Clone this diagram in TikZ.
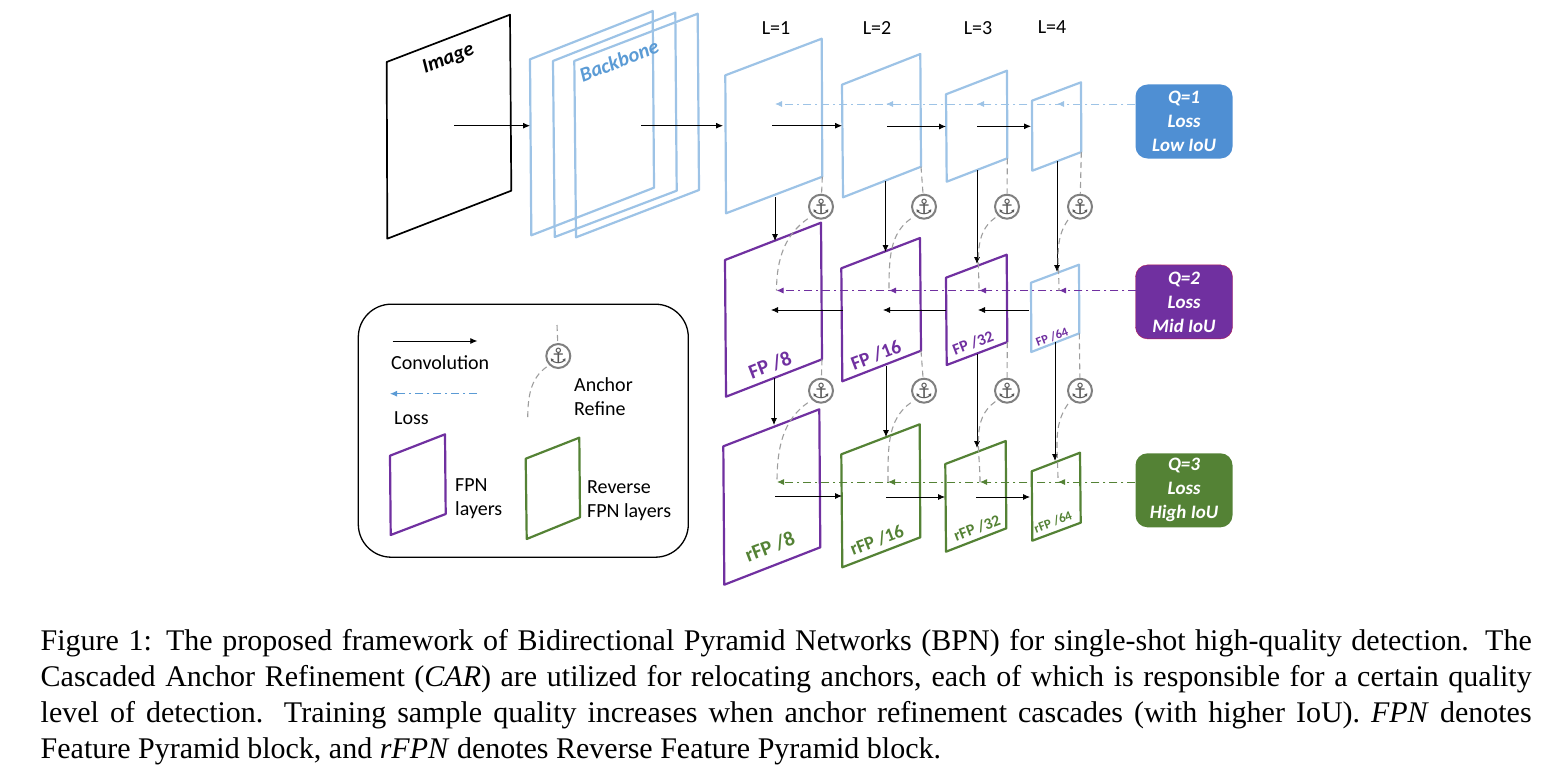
\documentclass[tikz,border=0pt]{standalone}
\usepackage{fontspec}
\setmainfont{Liberation Serif}
\newfontfamily\labelfont{Carlito}
\newfontfamily\symbolfont{DejaVu Sans}
\usetikzlibrary{arrows.meta,positioning}
\definecolor{paleblue}{HTML}{9DC3E6}
\definecolor{midblue}{HTML}{5B9BD5}
\definecolor{boxblue}{HTML}{4F8FD3}
\definecolor{fpnpurple}{HTML}{7030A0}
\definecolor{rfpngreen}{HTML}{548235}
\newcommand{\anchorsym}{\makebox[0pt]{\raisebox{-.36em}[0pt][0pt]{⚓}}}
\tikzset{every picture/.style={
  >={Latex[length=7pt,width=6pt]}   % Small solid arrow heads.
  }
}

\begin{document}
\begin{tikzpicture}[x=1pt,y=-1pt,
    sheet/.style={              % Feature maps, seen at an angle.
      line width=2.2pt,
      line join=round
    },
    conv/.style={               % Convolution arrows.
      ->,
      line width=.8pt
    },
    loss/.style={               % Loss lines, running out of a Q box.
      ->,
      line width=.9pt,
      dash pattern=on 8pt off 4pt on 2pt off 4pt
    },
    refine/.style={             % Anchor refinement paths.
      line width=1.1pt,
      black!38,
      dash pattern=on 6pt off 4pt
    },
    anchormark/.style={         % Ringed anchor symbols.
      circle,
      draw=black!50,
      line width=2pt,
      minimum size=24pt,
      inner sep=0pt,
      text=black!65,
      font=\symbolfont\fontsize{21}{21}\selectfont
    },
    lbl/.style={                % Plain black labels.
      inner sep=0pt,
      align=left,
      font=\labelfont\fontsize{20}{24}\selectfont
    },
    tilted/.style={             % Text lying on a sheet.
      inner sep=0pt,
      rotate=21,
      font=\labelfont\bfseries\fontsize{#1}{#1}\selectfont
    },
    qbox/.style={               % Boxes naming a quality level.
      rectangle,
      rounded corners=12pt,
      minimum width=97pt,
      minimum height=74pt,
      inner sep=0pt,
      align=center,
      text=white,
      font=\labelfont\bfseries\itshape\fontsize{19}{24}\selectfont
    }]
    \useasboundingbox (0,0) rectangle (1554,773);

    % Depict the input image and the backbone.
    \draw[sheet,line width=1.7pt] (386.7,62) -- (510,14.7) -- (511.3,190.7)
      -- (387.3,238.7) -- cycle;
    \draw[sheet,paleblue] (530,59.3) -- (652.7,11) -- (654,187.7)
      -- (531.3,235.3) -- cycle;
    \draw[sheet,paleblue] (553,61) -- (675.3,12.7) -- (676.7,190.7)
      -- (554.7,237) -- cycle;
    \draw[sheet,paleblue] (574.3,61) -- (697.7,13.7) -- (699,190)
      -- (576,237.3) -- cycle;
    \node[tilted=20.5,font=\labelfont\bfseries\itshape\fontsize{20.5}{20.5}\selectfont]
      (limage) at (448.5,59) {Image};
    \node[tilted=20.5,text=midblue,font=\labelfont\bfseries\itshape\fontsize{20.5}{20.5}\selectfont]
      (lbackbone) at (619,60.5) {Backbone};

    % The first row of the pyramid.
    \draw[sheet,paleblue] (725.3,75.3) -- (821.7,38.7) -- (822.3,176.7) coordinate (l1se)
      -- (726,213.3) -- cycle;
    \draw[sheet,paleblue] (842,84.7) -- (920.3,54) -- (921,166.7) coordinate (l2se)
      -- (843,197.3) -- cycle;
    \draw[sheet,paleblue] (946,94.3) -- (1007,70.7) -- (1007.3,158.3) coordinate (l3se)
      -- (946.7,181.7) -- cycle;
    \draw[sheet,paleblue] (1032,100.7) -- (1081,82.3) -- (1081.3,152) coordinate (l4se)
      -- (1032.3,170.7) -- cycle;

    % The second row.
    \draw[sheet,fpnpurple] (725,260) -- (821,222.7) -- (822,359.3) coordinate (fp8se)
      -- (726,396.7) -- cycle;
    \draw[sheet,fpnpurple] (841.3,268.3) -- (920,238) -- (921,350.7) coordinate (fp16se)
      -- (842.3,381.3) -- cycle;
    \draw[sheet,fpnpurple] (946,277.7) -- (1006.7,254.7) -- (1007.3,342) coordinate (fp32se)
      -- (946.7,365) -- cycle;
    \draw[sheet,paleblue] (1031,282.7) -- (1079,264.7) -- (1079.3,333.3) coordinate (fp64se)
      -- (1031.3,352) -- cycle;

    % The third row.
    \draw[sheet,fpnpurple] (723.3,446.3) -- (819.3,409.3) -- (820.3,547.3)
      -- (724.3,584.7) -- cycle;
    \draw[sheet,rfpngreen] (841.3,454.3) -- (919.7,424.3) -- (920.3,537.3)
      -- (842.3,567.3) -- cycle;
    \draw[sheet,rfpngreen] (945.3,464) -- (1005.7,441) -- (1006.3,528.3)
      -- (946,551.7) -- cycle;
    \draw[sheet,rfpngreen] (1031.7,471.3) -- (1080,452.7) -- (1080.7,522.7)
      -- (1032.3,540.7) -- cycle;

    % Label the sheets.
    \node[tilted=20.5,text=fpnpurple] (lfp8) at (770,365) {FP /8};
    \node[tilted=19.5,text=fpnpurple] (lfp16) at (876,355) {FP /16};
    \node[tilted=16,text=fpnpurple] (lfp32) at (973,343) {FP /32};
    \node[tilted=12.5,text=fpnpurple] (lfp64) at (1052,337) {FP /64};
    \node[tilted=20.5,text=rfpngreen] (lrfp8) at (770,547) {rFP /8};
    \node[tilted=18.5,text=rfpngreen] (lrfp16) at (877,540) {rFP /16};
    \node[tilted=16,text=rfpngreen] (lrfp32) at (977,528) {rFP /32};
    \node[tilted=13,text=rfpngreen] (lrfp64) at (1053,522) {rFP /64};

    \node[lbl] (level1) at (776,28) {L=1};
    \node[lbl] (level2) at (877,28) {L=2};
    \node[lbl] (level3) at (978,28) {L=3};
    \node[lbl] (level4) at (1052,27) {L=4};

    % The boxes at the right.
    \node[qbox,fill=boxblue] (q1) at (1184,121.5) {Q=1\\Loss\\Low IoU};
    \node[qbox,fill=fpnpurple,draw=red!45!fpnpurple] (q2) [below=106pt of q1] {Q=2\\Loss\\Mid IoU};
    \node[qbox,fill=rfpngreen] (q3) [below=114pt of q2] {Q=3\\Loss\\High IoU};

    % Ends of the convolution arrows.
    \coordinate (imgout) at (454,125.7);
    \coordinate (bbin)   at (530,125.7);
    \coordinate (bbout)  at (641,125.7);
    \coordinate (l1in)   at (723,125.7);
    \coordinate (l1out)  at (772,125.7);
    \coordinate (l2in)   at (842,125.7);
    \coordinate (l2out)  at (887,126.5);
    \coordinate (l3in)   at (946,126.5);
    \coordinate (l3out)  at (977,126.3);
    \coordinate (l4in)   at (1031,126.3);
    \coordinate (fp64out) at (1029,310);
    \coordinate (fp32in)  at (978,310);
    \coordinate (fp32out) at (946,310);
    \coordinate (fp16in)  at (883,310);
    \coordinate (fp16out) at (843,310);
    \coordinate (fp8in)   at (771,310);
    \coordinate (rfp8out)  at (775,496);
    \coordinate (rfp16in)  at (842,496);
    \coordinate (rfp16out) at (886,497);
    \coordinate (rfp32in)  at (945,497);
    \coordinate (rfp32out) at (976,497);
    \coordinate (rfp64in)  at (1030,497);
    \draw[conv] (imgout) -- (bbin);
    \draw[conv] (bbout) -- (l1in);
    \draw[conv] (l1out) -- (l2in);
    \draw[conv] (l2out) -- (l3in);
    \draw[conv] (l3out) -- (l4in);
    \draw[conv] (fp64out) -- (fp32in);
    \draw[conv] (fp32out) -- (fp16in);
    \draw[conv] (fp16out) -- (fp8in);
    \draw[conv] (rfp8out) -- (rfp16in);
    \draw[conv] (rfp16out) -- (rfp32in);
    \draw[conv] (rfp32out) -- (rfp64in);

    % The arrows from one row down to the next.
    \coordinate (d1a) at (775,197);    \coordinate (d1b) at (775,241);
    \coordinate (d2a) at (885.5,181);  \coordinate (d2b) at (885.5,252);
    \coordinate (d3a) at (977,170);    \coordinate (d3b) at (977,264);
    \coordinate (d4a) at (1057,161);   \coordinate (d4b) at (1057,272);
    \coordinate (e1a) at (774,378);    \coordinate (e1b) at (774,425);
    \coordinate (e2a) at (886,366);    \coordinate (e2b) at (886,437);
    \coordinate (e3a) at (977,354);    \coordinate (e3b) at (977,448);
    \coordinate (e4a) at (1055,342);   \coordinate (e4b) at (1055,461);
    \draw[conv] (d1a) -- (d1b);
    \draw[conv] (d2a) -- (d2b);
    \draw[conv] (d3a) -- (d3b);
    \draw[conv] (d4a) -- (d4b);
    \draw[conv] (e1a) -- (e1b);
    \draw[conv] (e2a) -- (e2b);
    \draw[conv] (e3a) -- (e3b);
    \draw[conv] (e4a) -- (e4b);

    % Loss lines; all of a colour start at the same point, so the dashes agree.
    \coordinate (q1out) at (1135,104);
    \coordinate (q2out) at (1136,290.5);
    \coordinate (q3out) at (1135,482);
    \coordinate (t1a) at (775,104);    \coordinate (t2a) at (776.5,290.5);  \coordinate (t3a) at (777,482);
    \coordinate (t1b) at (886,104);    \coordinate (t2b) at (889,290.5);    \coordinate (t3b) at (888,482);
    \coordinate (t1c) at (977,104);    \coordinate (t2c) at (979,290.5);    \coordinate (t3c) at (980,482);
    \coordinate (t1d) at (1057,104);   \coordinate (t2d) at (1059,290.5);   \coordinate (t3d) at (1058,482);
    \draw[loss,paleblue] (q1out) -- (t1a);
    \draw[loss,paleblue] (q1out) -- (t1b);
    \draw[loss,paleblue] (q1out) -- (t1c);
    \draw[loss,paleblue] (q1out) -- (t1d);
    \draw[loss,fpnpurple] (q2out) -- (t2a);
    \draw[loss,fpnpurple] (q2out) -- (t2b);
    \draw[loss,fpnpurple] (q2out) -- (t2c);
    \draw[loss,fpnpurple] (q2out) -- (t2d);
    \draw[loss,rfpngreen] (q3out) -- (t3a);
    \draw[loss,rfpngreen] (q3out) -- (t3b);
    \draw[loss,rfpngreen] (q3out) -- (t3c);
    \draw[loss,rfpngreen] (q3out) -- (t3d);

    % Anchors between the rows.
    \node[anchormark] (a1) at (821,206.7) {\anchorsym};
    \node[anchormark] (a2) at (924,206.7) {\anchorsym};
    \node[anchormark] (a3) at (1007,206.7) {\anchorsym};
    \node[anchormark] (a4) at (1080,206.7) {\anchorsym};
    \node[anchormark] (b1) at (821,390.7) {\anchorsym};
    \node[anchormark] (b2) at (924,390.7) {\anchorsym};
    \node[anchormark] (b3) at (1007,390.7) {\anchorsym};
    \node[anchormark] (b4) at (1080,390.7) {\anchorsym};

    % Draw the refinement paths.
    \draw[refine] (l1se) -- (a1);
    \draw[refine] (l2se) -- (a2);
    \draw[refine] (l3se) -- (a3);
    \draw[refine] (l4se) -- (a4);
    \draw[refine] (fp8se) -- (b1);
    \draw[refine] (fp16se) -- (b2);
    \draw[refine] (fp32se) -- (b3);
    \draw[refine] (fp64se) -- (b4);
    \draw[refine,shorten <=5pt] (a1.south west) to[out=215,in=90] (t2a);
    \draw[refine,shorten <=5pt] (a2.south west) to[out=215,in=90] (t2b);
    \draw[refine,shorten <=3pt] (a3.south west) to[out=215,in=90] (t2c);
    \draw[refine,shorten <=5pt] (a4.south west) to[out=235,in=90] (t2d);
    \draw[refine,shorten <=5pt] (b1.south west) to[out=215,in=90] (t3a);
    \draw[refine,shorten <=5pt] (b2.south west) to[out=215,in=90] (t3b);
    \draw[refine,shorten <=3pt] (b3.south west) to[out=215,in=90] (t3c);
    \draw[refine,shorten <=5pt] (b4.south west) to[out=235,in=90] (t3d);

    % The legend.
    \node[draw,line width=1.3pt,rounded corners=33pt,minimum width=330pt,
      minimum height=253pt] (legend) at (523.3,430.7) {};
    \coordinate (convfrom) at (392.7,341);
    \coordinate (convto)   at (477.3,341);
    \draw[conv] (convfrom) -- (convto);
    \node[lbl,anchor=west] (lconv) at (391,363) {Convolution};
    \coordinate (lossfrom) at (477,393.7);
    \coordinate (lossto)   at (390,393.7);
    \draw[loss,midblue] (lossfrom) -- (lossto);
    \node[lbl,anchor=west] (lloss) at (394,417.7) {Loss};
    \node[anchormark] (akey) at (558.3,356) {\anchorsym};
    \coordinate (keytop) at (557,325);
    \coordinate (keyend) at (527.7,420);
    \draw[refine] (keytop) -- (akey);
    \draw[refine,shorten <=3pt] (akey.south west) to[out=215,in=90] (keyend);
    \node[lbl,anchor=west] (lanchor) at (574,396.5) {Anchor\\Refine};
    \draw[sheet,fpnpurple] (390,455.7) -- (445,434.3) -- (445.7,514) -- (390.7,535) -- cycle;
    \node[lbl,anchor=west] (lfpn) at (455,499) {FPN\\layers};
    \draw[sheet,rfpngreen] (525.7,458.7) -- (579.3,437.7) -- (580,517.3) -- (526.7,539) -- cycle;
    \node[lbl,anchor=west] (lrfpn) at (587,501) {Reverse\\FPN layers};

    % The caption.
    \node[inner sep=0pt,anchor=north west,text width=1491pt,align=justify,
      font=\fontsize{30}{36}\selectfont] (caption) at (40.5,629)
      {Figure 1: The proposed framework of Bidirectional Pyramid Networks (BPN) for single-shot high-quality detection. The\linebreak
       Cascaded Anchor Refinement (\textit{CAR}) are utilized for relocating anchors, each of which is responsible for a certain quality\linebreak
       level of detection. Training sample quality increases when anchor refinement cascades (with higher IoU). \textit{FPN} denotes\linebreak
       Feature Pyramid block, and \textit{rFPN} denotes Reverse Feature Pyramid block.};
\end{tikzpicture}
\end{document}
